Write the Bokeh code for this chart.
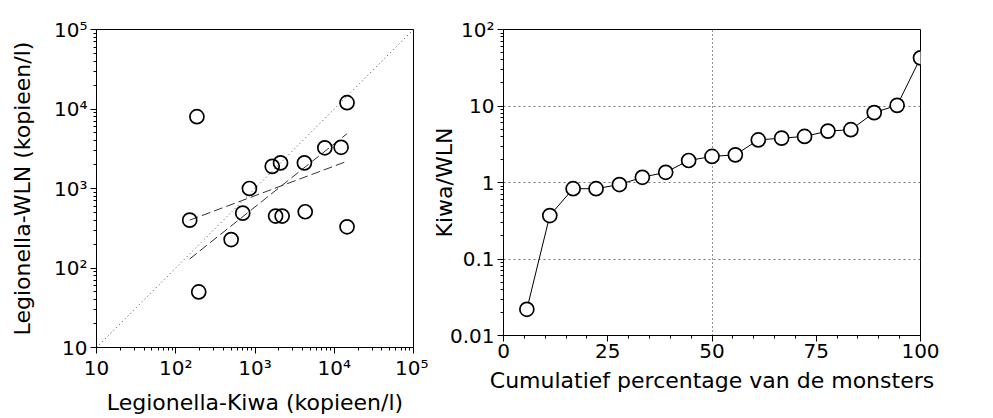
from bokeh.plotting import figure
from bokeh.layouts import row
from bokeh.models import FixedTicker, Range1d
from bokeh.embed import file_html
from bokeh.resources import INLINE

# ---- data: left panel (scatter Kiwa vs WLN) ----
kiwa = [150, 185, 195, 500, 700, 850, 1650, 2100, 1820, 2200, 4200, 4300, 7600, 12200, 14500, 14500]
wln = [400, 8000, 50, 228, 490, 1000, 1900, 2100, 450, 450, 2100, 510, 3250, 3300, 12000, 330]
fit1_x = [150, 14500]
fit1_y = [400, 2200]
fit2_x = [150, 14500]
fit2_y = [130, 4900]
diag_x = [10, 100000]
diag_y = [10, 100000]

# ---- data: right panel (cumulative ratio) ----
cum_pct = [5.6, 11.1, 16.7, 22.2, 27.8, 33.3, 38.9, 44.4, 50.0, 55.6,
           61.1, 66.7, 72.2, 77.8, 83.3, 88.9, 94.4, 100.0]
ratio = [0.022, 0.37, 0.83, 0.83, 0.94, 1.17, 1.36, 1.94, 2.19, 2.30,
         3.6, 3.8, 4.0, 4.7, 4.9, 8.2, 10.2, 42.6]

left_ticks = [10, 100, 1000, 10000, 100000]
left_labels = ["10", "10²", "10³", "10⁴", "10⁵"]
right_yticks = [0.01, 0.1, 1, 10, 100]
right_ylabels = ["0.01", "0.1", "1", "10", "10²"]
right_xticks = [0, 25, 50, 75, 100]

FONT = "DejaVu Sans"


def log_minors(lo_exp, hi_exp):
    return [m * 10 ** e for e in range(lo_exp, hi_exp) for m in range(2, 10)]


def style_axes(p):
    for ax in p.axis:
        ax.axis_line_color = "black"
        ax.axis_line_width = 1
        ax.major_tick_line_color = "black"
        ax.minor_tick_line_color = "black"
        ax.major_tick_in = 0
        ax.major_tick_out = 6
        ax.minor_tick_in = 0
        ax.minor_tick_out = 3
        ax.major_label_text_font = FONT
        ax.major_label_text_font_size = "20px"
        ax.major_label_text_color = "black"
        ax.axis_label_text_font = FONT
        ax.axis_label_text_font_size = "22px"
        ax.axis_label_text_font_style = "normal"
        ax.axis_label_text_color = "black"
    p.xaxis.major_label_standoff = 2
    p.yaxis.major_label_standoff = 3
    p.xaxis.axis_label_standoff = 7
    p.outline_line_color = "black"
    p.outline_line_width = 1
    p.background_fill_color = "white"
    p.border_fill_color = "white"


# ---------- left panel ----------
p1 = figure(x_axis_type="log", y_axis_type="log",
            x_range=Range1d(10, 100000), y_range=Range1d(10, 100000),
            frame_width=317, frame_height=318,
            min_border_left=96, min_border_right=15,
            min_border_top=28, min_border_bottom=70,
            output_backend="svg", toolbar_location=None)
p1.xgrid.visible = False
p1.ygrid.visible = False
p1.xaxis.ticker = FixedTicker(ticks=left_ticks, minor_ticks=log_minors(1, 5))
p1.yaxis.ticker = FixedTicker(ticks=left_ticks, minor_ticks=log_minors(1, 5))
p1.xaxis.major_label_overrides = dict(zip(left_ticks, left_labels))
p1.yaxis.major_label_overrides = dict(zip(left_ticks, left_labels))
p1.xaxis.axis_label = "Legionella-Kiwa (kopieen/l)"
p1.yaxis.axis_label = "Legionella-WLN (kopieen/l)"
style_axes(p1)
p1.yaxis.axis_label_standoff = 16

p1.line(diag_x, diag_y, line_color="#444444", line_width=1, line_dash="1 3")
p1.line(fit1_x, fit1_y, line_color="#333333", line_width=1, line_dash="9 4")
p1.line(fit2_x, fit2_y, line_color="#333333", line_width=1, line_dash="9 4")
p1.scatter(kiwa, wln, marker="circle", size=14, fill_color=None,
           line_color="black", line_width=1.7)

# ---------- right panel ----------
p2 = figure(y_axis_type="log",
            x_range=Range1d(0, 100), y_range=Range1d(0.01, 100),
            frame_width=417, frame_height=306,
            min_border_left=75, min_border_right=45,
            min_border_top=29, min_border_bottom=81,
            output_backend="svg", toolbar_location=None)
p2.xaxis.ticker = FixedTicker(ticks=right_xticks, minor_ticks=list(range(0, 101, 5)))
p2.yaxis.ticker = FixedTicker(ticks=right_yticks, minor_ticks=log_minors(-2, 2))
p2.yaxis.major_label_overrides = dict(zip(right_yticks, right_ylabels))
p2.xaxis.axis_label = "Cumulatief percentage van de monsters"
p2.yaxis.axis_label = "Kiwa/WLN"
style_axes(p2)
p2.yaxis.axis_label_standoff = -10
p2.xgrid.ticker = FixedTicker(ticks=[50])
p2.ygrid.ticker = FixedTicker(ticks=[0.1, 1, 10])
p2.xgrid.grid_line_color = "#222222"
p2.xgrid.grid_line_dash = "1 3"
p2.xgrid.grid_line_width = 1
p2.ygrid.grid_line_color = "#777777"
p2.ygrid.grid_line_dash = "2 3"
p2.ygrid.grid_line_width = 1

p2.line(cum_pct, ratio, line_color="black", line_width=1)
p2.scatter(cum_pct, ratio, marker="circle", size=14, fill_color="white",
           line_color="black", line_width=1.7)

layout = row(p1, p2)
open("out.html", "w").write(file_html(layout, INLINE))
